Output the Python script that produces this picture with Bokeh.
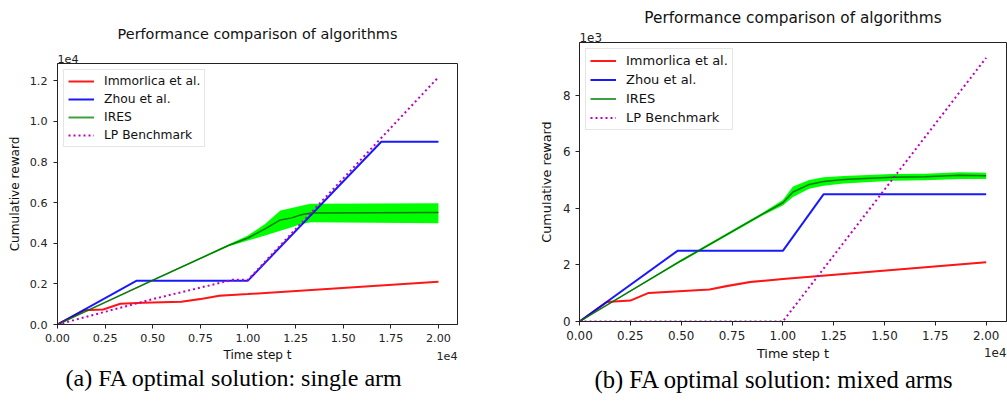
from bokeh.plotting import figure
from bokeh.layouts import row
from bokeh.models import Range1d, FixedTicker, CustomJSTickFormatter, Legend, LegendItem, Title, Label
from bokeh.embed import file_html
from bokeh.resources import INLINE

# ---------------- data: panel (a) single arm ----------------
a_red_x = [0, 1400, 2400, 3300, 4500, 6500, 7500, 8500, 10000, 20000]
a_red_y = [0, 700, 740, 1020, 1070, 1120, 1250, 1420, 1500, 2110]
a_red_sd = [0, 20, 20, 25, 20, 20, 50, 40, 20, 20]
a_blue_x = [0, 4160, 10000, 17000, 20000]
a_blue_y = [0, 2160, 2160, 9000, 9000]
a_lp_x = [0, 5000, 9200, 10000, 20000]
a_lp_y = [0, 1250, 2200, 2200, 12180]
a_ires_x = [0, 5000, 9000, 10000, 10900, 11700, 12300, 12800, 13300, 20000]
a_ires_mean = [0, 2180, 3900, 4260, 4710, 5150, 5250, 5400, 5490, 5510]
a_ires_hi = [0, 2200, 3950, 4380, 4950, 5610, 5740, 5850, 5940, 5970]
a_ires_lo = [0, 2160, 3850, 4130, 4380, 4620, 4790, 4950, 5030, 4980]

# ---------------- data: panel (b) mixed arms ----------------
b_red_x = [0, 1350, 2500, 3400, 6400, 7200, 8400, 10000, 20000]
b_red_y = [0, 690, 740, 1010, 1130, 1250, 1400, 1500, 2100]
b_red_sd = [0, 20, 20, 25, 20, 50, 40, 20, 20]
b_blue_x = [0, 4820, 10000, 12000, 20000]
b_blue_y = [0, 2500, 2500, 4500, 4500]
b_lp_x = [0, 10000, 20000]
b_lp_y = [0, 0, 9330]
b_ires_x = [0, 5000, 9000, 10000, 10500, 11300, 12000, 13000, 15400, 17000, 18700, 20000]
b_ires_mean = [0, 2150, 3800, 4200, 4580, 4850, 4950, 5020, 5100, 5120, 5170, 5160]
b_ires_hi = [0, 2190, 3850, 4300, 4780, 5010, 5100, 5150, 5220, 5230, 5280, 5260]
b_ires_lo = [0, 2110, 3750, 4100, 4400, 4700, 4800, 4880, 4980, 5000, 5040, 5040]

names = ["Immorlica et al.", "Zhou et al.", "IRES", "LP Benchmark"]
x_ticks = [0, 2500, 5000, 7500, 10000, 12500, 15000, 17500, 20000]
a_y_ticks = [0, 2000, 4000, 6000, 8000, 10000, 12000]
b_y_ticks = [0, 2000, 4000, 6000, 8000]
title_text = "Performance comparison of algorithms"
caption_a = "(a) FA optimal solution: single arm"
caption_b = "(b) FA optimal solution: mixed arms"

FONT = "DejaVu Sans"
RED, BLUE, GREEN, MAG = "#ff0000", "#0000ff", "#008000", "#c000c0"


def panel(W, H, bl, br, bt, bb, ymax, yticks, ydiv, ydec, yexp, caption, cap_off, cap_size,
          cap_standoff, rx, ry, rsd, bx, by, lx, ly, ix, im, ih, il, k, legend_rows,
          title_standoff, ylab_standoff, ylabel_standoff, xexp_mode, xexp_standoff):
    fs_tick = 11.2 * k
    fs_lab = 12.1 * k
    fs_leg = 12.3 * k
    fs_title = 14.4 * k
    p = figure(width=W, height=H, output_backend="svg", toolbar_location=None, title=None,
               x_range=Range1d(0, 21000), y_range=Range1d(0, ymax),
               min_border_left=bl, min_border_right=br, min_border_top=bt, min_border_bottom=bb)
    p.frame_align = False
    p.grid.visible = False
    p.outline_line_color = "#222222"
    p.outline_line_width = 1
    p.background_fill_color = "white"
    p.border_fill_color = "white"
    for ax in (p.xaxis[0], p.yaxis[0]):
        ax.major_tick_out = 4
        ax.major_tick_in = 0
        ax.minor_tick_line_color = None
        ax.axis_line_color = "#222222"
        ax.major_tick_line_color = "#222222"
        ax.major_label_text_font = FONT
        ax.major_label_text_font_size = f"{fs_tick:.1f}px"
        ax.major_label_text_color = "#222222"
        ax.axis_label_text_font = FONT
        ax.axis_label_text_font_style = "normal"
        ax.axis_label_text_font_size = f"{fs_lab:.1f}px"
        ax.axis_label_text_color = "#111111"
    p.xaxis.ticker = FixedTicker(ticks=x_ticks)
    p.xaxis.formatter = CustomJSTickFormatter(code="return (tick/10000).toFixed(2)")
    p.xaxis.major_label_standoff = 5
    p.xaxis.axis_label = "Time step t"
    p.xaxis.axis_label_standoff = 3
    p.yaxis.ticker = FixedTicker(ticks=yticks)
    p.yaxis.formatter = CustomJSTickFormatter(code=f"return (tick/{ydiv}).toFixed({ydec})")
    p.yaxis.major_label_standoff = ylab_standoff
    p.yaxis.axis_label = "Cumulative reward"
    p.yaxis.axis_label_standoff = ylabel_standoff

    # bands
    p.varea(x=rx, y1=[a - s for a, s in zip(ry, rsd)], y2=[a + s for a, s in zip(ry, rsd)],
            fill_color=RED, fill_alpha=0.25)
    p.varea(x=ix, y1=il, y2=ih, fill_color="#00ff00", fill_alpha=1.0)
    r_red = p.line(rx, ry, line_color=RED, line_width=2, line_alpha=0.9)
    r_blue = p.line(bx, by, line_color=BLUE, line_width=2, line_alpha=0.9)
    p.line(ix, im, line_color="#0b6a0b", line_width=1.5, line_alpha=0.9)
    r_lp = p.line(lx, ly, line_color=MAG, line_width=2, line_dash="2 3")
    # legend-only handle for IRES, placed outside the visible ranges
    r_green = p.line([-9000, -8000], [-9000, -9000], line_color=GREEN, line_width=2, line_alpha=0.75)

    leg = Legend(items=[LegendItem(label=names[0], renderers=[r_red]),
                        LegendItem(label=names[1], renderers=[r_blue]),
                        LegendItem(label=names[2], renderers=[r_green]),
                        LegendItem(label=names[3], renderers=[r_lp])],
                 location="top_left")
    leg.margin = 6
    leg.padding = 4
    leg.spacing = 4
    leg.label_height = legend_rows
    leg.glyph_height = legend_rows
    leg.glyph_width = 26
    leg.label_standoff = 10
    leg.label_text_font = FONT
    leg.label_text_font_size = f"{fs_leg:.1f}px"
    leg.label_text_color = "#111111"
    leg.border_line_color = "#cccccc"
    leg.border_line_width = 1
    leg.background_fill_alpha = 0.85
    p.add_layout(leg, "center")

    # above: exponent label (innermost), then the title
    p.add_layout(Title(text=yexp, align="left", text_font=FONT, text_font_size=f"{fs_tick:.1f}px",
                       text_font_style="normal", text_color="#222222", standoff=1), "above")
    p.add_layout(Title(text=title_text, align="center", text_font=FONT,
                       text_font_size=f"{fs_title:.1f}px", text_font_style="normal",
                       text_color="#111111", standoff=title_standoff), "above")
    if xexp_mode == "right":
        p.add_layout(Label(x=21000, y=0, text="1e4", y_offset=-31, text_align="right",
                           text_baseline="middle", text_font=FONT,
                           text_font_size=f"{fs_tick:.1f}px", text_color="#222222"), "right")
    p.add_layout(Title(text=caption, align="left", offset=cap_off, text_font="Liberation Serif",
                       text_font_size=f"{cap_size}px", text_font_style="normal",
                       text_color="#000000", standoff=cap_standoff), "below")
    if xexp_mode == "title":
        p.add_layout(Title(text="1e4", align="right", vertical_align="top", text_font=FONT,
                           text_font_size=f"{fs_tick:.1f}px", text_font_style="normal",
                           text_color="#222222", standoff=xexp_standoff), "below")
    return p


pa = panel(520, 402, 57, 63, 63, 78, 12850, a_y_ticks, 10000, 1, "1e4", caption_a, 8, 24, -3,
           a_red_x, a_red_y, a_red_sd, a_blue_x, a_blue_y, a_lp_x, a_lp_y,
           a_ires_x, a_ires_mean, a_ires_hi, a_ires_lo, 1.0, 14, 21, 6, 5, "right", 0)
pb = panel(487, 402, 59, 1, 42, 81, 9870, b_y_ticks, 1000, 0, "1e3", caption_b, 15, 24.6, 0,
           b_red_x, b_red_y, b_red_sd, b_blue_x, b_blue_y, b_lp_x, b_lp_y,
           b_ires_x, b_ires_mean, b_ires_hi, b_ires_lo, 1.06, 15, 8, 5, 6, "title", -89)

layout = row(pa, pb)
open("out.html", "w").write(file_html(layout, INLINE))
